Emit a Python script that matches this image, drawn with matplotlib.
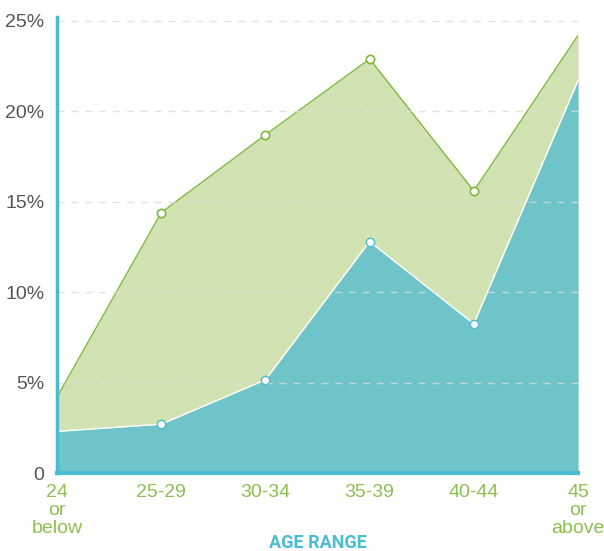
import matplotlib.pyplot as plt

# data
age_ranges = ["24\nor\nbelow", "25-29", "30-34", "35-39", "40-44", "45\nor\nabove"]
green_vals = [4.2, 14.4, 18.7, 22.9, 15.6, 24.2]
blue_vals = [2.3, 2.7, 5.15, 12.8, 8.25, 21.7]
y_ticks = [0, 5, 10, 15, 20, 25]
y_labels = ["0", "5%", "10%", "15%", "20%", "25%"]

plt.rcParams["font.family"] = ["Liberation Sans", "DejaVu Sans"]

green_fill = "#d2e3b3"
green_line = "#7dba3c"
blue_fill = "#6fc4ca"
axis_blue = "#4bbdd3"

fig = plt.figure(figsize=(6.04, 5.51), dpi=100)
ax = fig.add_axes([57 / 604, 1 - 473 / 551, 521 / 604, 456 / 551])

x = list(range(len(age_ranges)))

ax.fill_between(x, 0, green_vals, color=green_fill, lw=0, zorder=1)
ax.plot(x, green_vals, color=green_line, lw=1, zorder=3)
ax.fill_between(x, 0, blue_vals, color=blue_fill, lw=0, zorder=2)
ax.plot(x, blue_vals, color="white", lw=1, zorder=3)

# markers only on the inner points
ax.plot(x[1:-1], green_vals[1:-1], ls="none", marker="o", ms=6,
        mfc="white", mec=green_line, mew=1.2, zorder=5)
ax.plot(x[1:-1], blue_vals[1:-1], ls="none", marker="o", ms=6,
        mfc="white", mec=axis_blue, mew=1.0, zorder=5)

ax.set_xlim(0, len(age_ranges) - 1)
ax.set_ylim(0, 25.22)

for t in y_ticks[1:]:
    ax.axhline(t, color="#dddddd", lw=1, ls=(0, (5, 5)), alpha=0.8, zorder=4)

ax.set_yticks(y_ticks)
ax.set_yticklabels(y_labels)
ax.set_xticks(x)
ax.set_xticklabels(age_ranges, linespacing=1.08, va="top")
ax.tick_params(axis="y", length=0, pad=9, labelsize=14, labelcolor="#555555")
ax.tick_params(axis="x", length=0, pad=8, labelsize=14, labelcolor="#8cc04f")

for s in ["top", "right"]:
    ax.spines[s].set_visible(False)
ax.spines["left"].set_color(axis_blue)
ax.spines["left"].set_linewidth(2.5)
ax.spines["bottom"].set_color(axis_blue)
ax.spines["bottom"].set_linewidth(3)
ax.spines["left"].set_zorder(6)
ax.spines["bottom"].set_zorder(6)

# axis title placed under the plot area
fig.text((57 + 578) / 2 / 604, 1 - 543 / 551, "AGE RANGE", ha="center", va="center",
         fontsize=13, fontweight="bold", color=axis_blue,
         family=["Roboto", "DejaVu Sans"])

plt.savefig("out.png", dpi=100)
